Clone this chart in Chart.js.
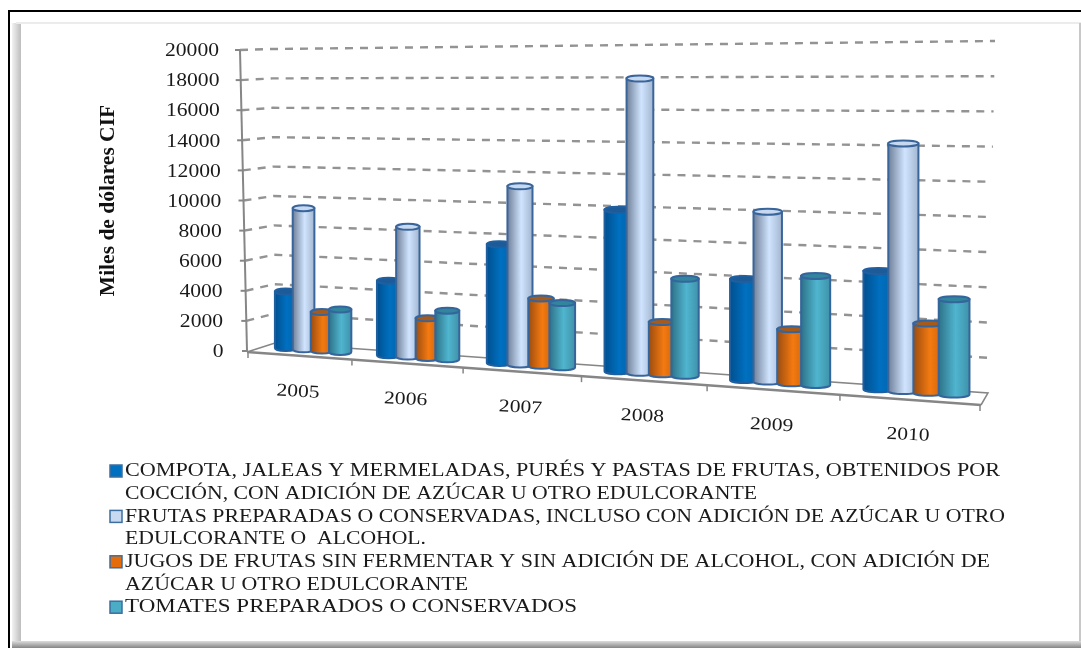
<!DOCTYPE html>
<html lang="es">
<head>
<meta charset="utf-8">
<title>Miles de dólares CIF</title>
<script src="https://cdn.jsdelivr.net/npm/chart.js@4/dist/chart.umd.min.js"></script>
<style>
    html, body { margin: 0; padding: 0; background: #fff; overflow: hidden; }
    #frame { position: relative; width: 1081px; height: 648px; }
    #border { position: absolute; left: 8px; top: 10px; width: 1073px; height: 638px; border-left: 2px solid #000; border-top: 2px solid #000; box-sizing: border-box; }
    #bevelLeft { position: absolute; left: 12px; top: 23px; width: 9px; height: 625px; background: linear-gradient(to right, #f2f2f2, #bdbdbd); }
    #bevelTop { position: absolute; left: 16px; top: 22px; width: 1065px; height: 2px; background: #ececec; }
    #bevelRight { position: absolute; left: 1079px; top: 23px; width: 2px; height: 625px; background: #c8c8c8; }
    #bevelBottom { position: absolute; left: 12px; top: 641px; width: 1069px; height: 7px; background: linear-gradient(to bottom, #dcdcdc, #858585); }
    canvas { position: absolute; left: 0; top: 0; }
</style>
</head>
<body>
<div id="frame">
    <div id="border"></div>
    <div id="bevelLeft"></div>
    <div id="bevelTop"></div>
    <div id="bevelRight"></div>
    <div id="bevelBottom"></div>
    <canvas id="importChart" width="1081" height="648"></canvas>
</div>
<script>
const years = ['2005', '2006', '2007', '2008', '2009', '2010'];
const compota = [3780, 4850, 7500, 9900, 6000, 6820];
const frutas = [9400, 8400, 11200, 17950, 10050, 14180];
const jugos = [2550, 2550, 4220, 3170, 3180, 3940];
const tomates = [2800, 3120, 4000, 5860, 6370, 5400];

const legendCompota = ['COMPOTA, JALEAS Y MERMELADAS, PURÉS Y PASTAS DE FRUTAS, OBTENIDOS POR', 'COCCIÓN, CON ADICIÓN DE AZÚCAR U OTRO EDULCORANTE'];
const legendFrutas = ['FRUTAS PREPARADAS O CONSERVADAS, INCLUSO CON ADICIÓN DE AZÚCAR U OTRO', 'EDULCORANTE O  ALCOHOL.'];
const legendJugos = ['JUGOS DE FRUTAS SIN FERMENTAR Y SIN ADICIÓN DE ALCOHOL, CON ADICIÓN DE', 'AZÚCAR U OTRO EDULCORANTE'];
const legendTomates = ['TOMATES PREPARADOS O CONSERVADOS'];

const SERIF = '"Liberation Serif", serif';
const AXIS_GRAY = '#868686';

// legend text is stretched so each line ends where it should (no wide Baskerville here)
const legendLineEnds = [1000, 757, 1005, 426, 990, 468, 577];

// left edge, mid, right edge of each cylinder, plus lid colour
const shades = [
    { edge: '#00508f', mid: '#0070c0', right: '#0064ad', lid: '#1c5a98', line: '#1f5f9f' },
    { edge: '#6f8098', mid: '#d0e4ff', right: '#a3b6cf', lid: '#c6d9f1', line: '#3a659b' },
    { edge: '#9c4c10', mid: '#f47a10', right: '#c8620e', lid: '#a85a18', line: '#35659d' },
    { edge: '#2d7388', mid: '#50b5cf', right: '#3e92a8', lid: '#31859c', line: '#35659d' }
];

// The 3D look: chart pixels are pushed through these before drawing
function floorX(chart, x) {
    const { left, width } = chart.chartArea;
    const u = (x - left) / width;
    return 263 + 583 * u + 141 * u * u;
}
function frontX(u) {
    return 248 + 602 * u + 130 * u * u;
}
function baseY(x) {
    return 348 + (x - 284) * 0.0695;
}
function depthScale(x, chart) {
    // px per value at this x, relative to the flat chart scale
    return (14.94 + (x - 283) * 0.00407) / (chart.chartArea.height / 20);
}

function stretchedText(ctx, text, x, y, sx, align, angle) {
    ctx.save();
    ctx.translate(x, y);
    ctx.rotate(angle || 0);
    ctx.scale(sx, 1);
    ctx.textAlign = align;
    ctx.textBaseline = 'middle';
    ctx.fillText(text, 0, 0);
    ctx.restore();
}

function drawWalls(chart) {
    const { ctx } = chart;
    const y = chart.scales.y;
    const bottom = y.getPixelForValue(0);
    const range = bottom - y.getPixelForValue(20000);

    ctx.save();
    ctx.lineWidth = 2.4;
    ctx.strokeStyle = '#939393';
    ctx.setLineDash([8, 7]);
    y.ticks.forEach(t => {
        if (t.value === 0) return;
        const f = (bottom - y.getPixelForValue(t.value)) / range;
        const py = y.getPixelForValue(t.value);
        const axisX = 247 - 7 * f;
        ctx.beginPath();
        ctx.moveTo(axisX, py);
        ctx.lineTo(275 - 3 * f, 343 - 294 * f);
        ctx.lineTo(988 + 7 * f, 393 - 352 * f);
        ctx.stroke();
    });
    ctx.setLineDash([]);

    // floor
    ctx.strokeStyle = AXIS_GRAY;
    ctx.lineWidth = 1.5;
    ctx.beginPath();
    ctx.moveTo(247, 352);
    ctx.lineTo(275, 343);
    ctx.lineTo(988, 393);
    ctx.lineTo(981, 405);
    ctx.stroke();
    ctx.lineWidth = 2.4;
    ctx.beginPath();
    ctx.moveTo(247, 352);
    ctx.lineTo(981, 405);
    ctx.stroke();

    // category ticks under the front edge
    ctx.lineWidth = 1.5;
    for (let i = 0; i <= years.length; i++) {
        const tx = frontX(i / years.length);
        const ty = 352 + (tx - 247) * 0.0722;
        ctx.beginPath();
        ctx.moveTo(tx, ty);
        ctx.lineTo(tx, ty + 6);
        ctx.stroke();
    }

    // value axis leans a little
    ctx.lineWidth = 2;
    ctx.beginPath();
    ctx.moveTo(240, y.getPixelForValue(20000));
    ctx.lineTo(247, bottom);
    ctx.stroke();
    y.ticks.forEach(t => {
        const py = y.getPixelForValue(t.value);
        const f = (bottom - py) / range;
        const axisX = 247 - 7 * f;
        ctx.beginPath();
        ctx.moveTo(axisX - 5, py);
        ctx.lineTo(axisX, py);
        ctx.stroke();
    });

    ctx.fillStyle = '#1a1a1a';
    ctx.font = '18px ' + SERIF;
    y.ticks.forEach(t => {
        const py = y.getPixelForValue(t.value);
        const f = (bottom - py) / range;
        stretchedText(ctx, String(t.value), 223.5 - 4.5 * f, py + 1.5, 1.2, 'right');
    });

    const x = chart.scales.x;
    years.forEach((label, i) => {
        const tx = frontX((i + 0.5) / years.length);
        stretchedText(ctx, x.getLabelForValue(i), tx - 1, 392 + (tx - 300) * 0.0706, 1.2, 'center', 0.05);
    });
    ctx.restore();
}

function drawCylinder(chart, bar, shade) {
    const { ctx } = chart;
    const half = bar.width * 0.6;
    const x0 = floorX(chart, bar.x - half);
    const x1 = floorX(chart, bar.x + half);
    const cx = (x0 + x1) / 2;
    const rx = (x1 - x0) / 2;
    const ry = 3;
    const by = baseY(cx);
    const ty = by - (bar.base - bar.y) * depthScale(cx, chart);

    const grad = ctx.createLinearGradient(x0, 0, x1, 0);
    grad.addColorStop(0, shade.edge);
    grad.addColorStop(0.55, shade.mid);
    grad.addColorStop(1, shade.right);

    ctx.save();
    ctx.lineWidth = 2;
    ctx.strokeStyle = shade.line;
    ctx.fillStyle = grad;
    ctx.beginPath();
    ctx.moveTo(x0, ty);
    ctx.lineTo(x0, by);
    ctx.ellipse(cx, by, rx, ry, 0, Math.PI, 0, true);
    ctx.lineTo(x1, ty);
    ctx.closePath();
    ctx.fill();
    ctx.stroke();
    ctx.fillStyle = shade.lid;
    ctx.beginPath();
    ctx.ellipse(cx, ty, rx, ry, 0, 0, Math.PI * 2);
    ctx.fill();
    ctx.stroke();
    ctx.restore();
}

const perspective = {
    id: 'perspective',
    beforeDatasetsDraw(chart) {
        drawWalls(chart);
        years.forEach((_, i) => {
            chart.data.datasets.forEach((ds, d) => {
                drawCylinder(chart, chart.getDatasetMeta(d).data[i], shades[d]);
            });
        });
        return false;
    }
};

const wrappedLegend = {
    id: 'wrappedLegend',
    afterDraw(chart) {
        const { ctx } = chart;
        let y = 471;
        let n = 0;
        ctx.save();
        ctx.font = '18px ' + SERIF;
        chart.data.datasets.forEach(ds => {
            ctx.fillStyle = ds.backgroundColor;
            ctx.strokeStyle = '#3d6ea0';
            ctx.lineWidth = 1.5;
            ctx.fillRect(110, y - 6, 12, 12);
            ctx.strokeRect(110, y - 6, 12, 12);
            ctx.fillStyle = '#1a1a1a';
            ds.legendLines.forEach(line => {
                const sx = (legendLineEnds[n] - 125) / ctx.measureText(line).width;
                stretchedText(ctx, line, 125, y + 0.5, sx, 'left');
                y += 22.7;
                n++;
            });
        });
        ctx.restore();
    }
};

new Chart(document.getElementById('importChart'), {
    type: 'bar',
    data: {
        labels: years,
        datasets: [
            { label: legendCompota.join(' '), legendLines: legendCompota, data: compota, backgroundColor: '#0070c0' },
            { label: legendFrutas.join(' '), legendLines: legendFrutas, data: frutas, backgroundColor: '#c6d9f1' },
            { label: legendJugos.join(' '), legendLines: legendJugos, data: jugos, backgroundColor: '#e46c0a' },
            { label: legendTomates.join(' '), legendLines: legendTomates, data: tomates, backgroundColor: '#4bacc6' }
        ]
    },
    options: {
        responsive: false,
        animation: false,
        categoryPercentage: 0.72,
        barPercentage: 1,
        layout: { padding: { left: 92, right: 97, top: 50, bottom: 297 } },
        plugins: { legend: { display: false }, tooltip: { enabled: false } },
        scales: {
            x: { display: false, grid: { display: false } },
            y: {
                min: 0,
                max: 20000,
                ticks: { display: false, stepSize: 2000 },
                grid: { display: false },
                border: { display: false },
                title: {
                    display: true,
                    text: 'Miles de dólares CIF',
                    color: '#111',
                    font: { family: SERIF, size: 21.5, weight: 'bold' }
                },
                afterFit(scale) { scale.width = 172; }
            }
        }
    },
    plugins: [perspective, wrappedLegend]
});
</script>
</body>
</html>
